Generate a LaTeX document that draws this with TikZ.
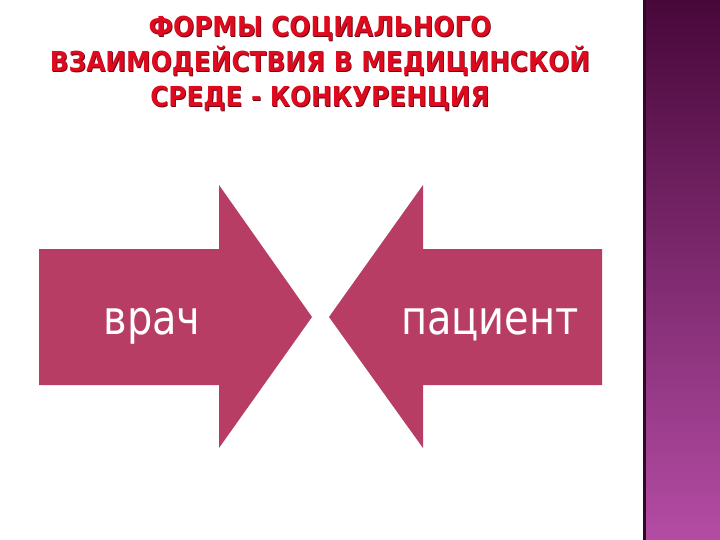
\documentclass[tikz,border=0pt]{standalone}
\usepackage{fontspec}
\setmainfont{DejaVu Sans}
\definecolor{arrowrose}{RGB}{184,61,100}
\definecolor{titlered}{RGB}{222,10,30}
\definecolor{titledark}{RGB}{110,0,20}
\definecolor{stripetop}{RGB}{72,8,58}
\definecolor{stripebot}{RGB}{180,76,164}
\tikzset{
  titleline/.style={anchor=base, text=titlered, font=\bfseries\fontsize{27.5}{27.5}\selectfont, xscale=0.9},
  titleshade/.style={anchor=base, text=titledark, font=\bfseries\fontsize{27.5}{27.5}\selectfont, xscale=0.9},
  arrowlabel/.style={anchor=base, text=white, font=\fontsize{47}{47}\selectfont, xscale=0.85}
}
\begin{document}
\begin{tikzpicture}[x=1pt, y=-1pt]
      \useasboundingbox[fill=white] (0,0) rectangle (720,540);
      % side stripe
      \shade[top color=stripetop, bottom color=stripebot] (645,0) rectangle (720,540);
      \fill[stripetop!70!black] (643,0) rectangle (645.5,540);
      % title
      \node[titleshade] at (320.8, 37.3) {ФОРМЫ СОЦИАЛЬНОГО};
      \node[titleshade] at (320.8, 72.8) {ВЗАИМОДЕЙСТВИЯ В МЕДИЦИНСКОЙ};
      \node[titleshade] at (320.8, 107.8) {СРЕДЕ - КОНКУРЕНЦИЯ};
      \node[titleline] (title1) at (320, 36.5) {ФОРМЫ СОЦИАЛЬНОГО};
      \node[titleline] (title2) at (320, 72) {ВЗАИМОДЕЙСТВИЯ В МЕДИЦИНСКОЙ};
      \node[titleline] (title3) at (320, 107) {СРЕДЕ - КОНКУРЕНЦИЯ};
      % arrows
      \fill[arrowrose] (39,249) -- (219,249) -- (219,185) -- (312,317) -- (219,448) -- (219,385) -- (39,385) -- cycle;
      \fill[arrowrose] (602,249) -- (423,249) -- (423,185) -- (329,317) -- (423,448) -- (423,385) -- (602,385) -- cycle;
      \node[arrowlabel] (doctor) at (152, 334) {врач};
      \node[arrowlabel] (patient) at (490, 334) {пациент};
\end{tikzpicture}
\end{document}
